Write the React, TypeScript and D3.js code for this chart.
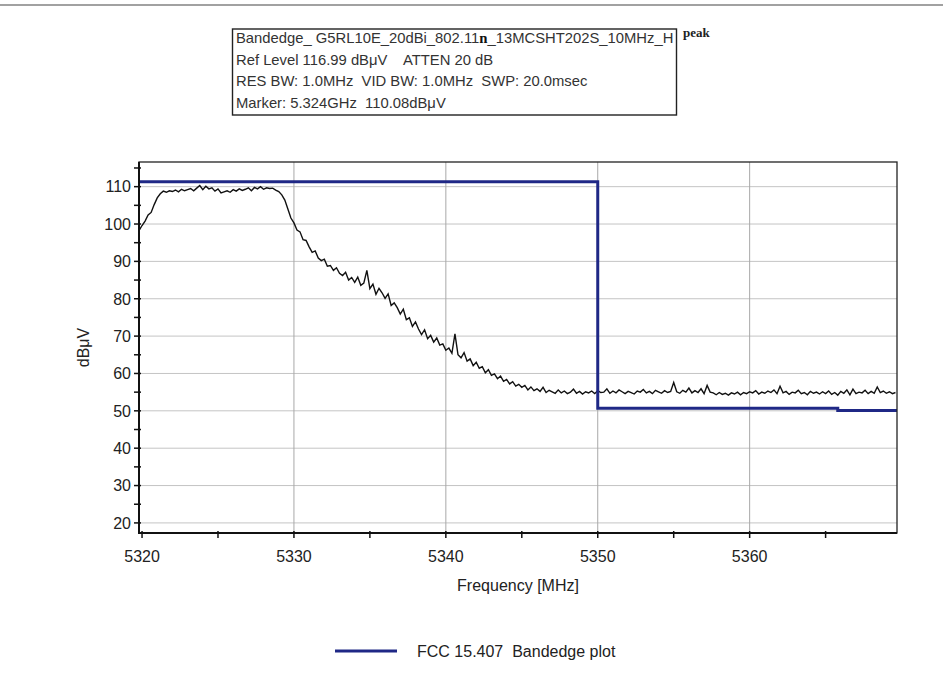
import React from 'react';
import * as d3 from 'd3';

// ---------- data ----------
const freqStart = 5319.8; // MHz, first sweep point
const freqStep = 0.2; // MHz between sweep points

const traceA = [98.2, 99.6, 100.8, 102.4, 103.1, 105.2, 107.0, 108.1, 108.8, 108.5, 108.9, 108.7, 109.1, 108.6, 109.3, 108.9, 109.2, 109.5, 108.9, 109.6, 110.3, 109.2, 110.1, 109.4, 109.7];
const traceB = [108.8, 109.4, 108.3, 108.6, 108.9, 108.5, 109.2, 108.8, 109.4, 109.0, 109.3, 109.7, 108.9, 109.8, 109.4, 110.0, 109.3, 109.7, 109.5, 109.6, 109.1, 108.7, 107.8, 106.4, 104.0];
const traceC = [101.6, 100.3, 98.4, 97.9, 95.8, 95.6, 93.9, 92.4, 92.8, 90.9, 90.2, 90.6, 88.7, 88.9, 87.6, 88.3, 86.8, 86.2, 87.1, 85.0, 85.7, 84.4, 85.8, 83.6, 84.2];
const traceD = [87.6, 82.7, 83.9, 81.2, 82.8, 81.6, 80.1, 81.3, 78.2, 78.9, 77.6, 75.9, 77.2, 74.4, 74.9, 72.6, 73.8, 71.9, 70.4, 71.7, 69.3, 70.2, 68.4, 69.5, 67.6];
const traceE = [67.9, 66.2, 66.8, 65.4, 70.6, 65.0, 64.2, 65.6, 63.3, 63.9, 62.1, 63.0, 61.4, 61.8, 60.2, 61.0, 59.5, 59.9, 58.6, 59.3, 57.9, 58.4, 57.2, 57.8, 56.6];
const traceF = [57.1, 56.3, 56.8, 55.6, 56.4, 55.4, 55.9, 55.2, 56.3, 54.9, 55.5, 55.1, 54.7, 55.6, 54.8, 55.3, 54.6, 55.0, 55.8, 54.7, 55.2, 54.5, 55.1, 54.8, 55.3];
const traceG = [54.6, 55.4, 54.9, 55.0, 55.9, 54.7, 55.3, 54.8, 55.6, 55.1, 54.6, 55.2, 54.9, 54.5, 55.3, 55.0, 55.7, 54.8, 55.2, 54.6, 55.5, 55.1, 54.7, 55.4, 54.9];
const traceH = [55.2, 57.6, 55.1, 54.7, 55.5, 55.0, 56.1, 54.8, 55.4, 54.9, 55.9, 54.6, 56.8, 55.0, 54.8, 54.3, 54.9, 54.4, 54.7, 54.2, 54.8, 54.5, 55.0, 54.3, 54.9];
const traceI = [54.6, 55.1, 54.8, 55.4, 54.5, 55.0, 54.7, 55.3, 54.9, 55.6, 54.6, 56.6, 54.8, 55.2, 54.4, 55.0, 54.8, 55.5, 54.6, 54.9, 54.3, 55.2, 54.7, 55.0, 54.5];
const traceJ = [55.1, 54.6, 55.3, 54.4, 54.9, 54.2, 55.2, 54.7, 55.6, 54.3, 55.8, 54.6, 55.0, 54.8, 55.5, 54.6, 55.2, 54.7, 56.4, 54.9, 55.3, 54.7, 55.1, 54.6, 54.9];
const traceLevels = [...traceA, ...traceB, ...traceC, ...traceD, ...traceE, ...traceF, ...traceG, ...traceH, ...traceI, ...traceJ];

const limitFreqs = [5319.8, 5350, 5365.8, 5369.7];
const limitLevels = [111.3, 50.7, 50.1, 50.1];

const xDomain = [5319.8, 5369.7];
const yDomain = [17.3, 116.6];
const xTicks = [5320, 5330, 5340, 5350, 5360];
const xMinorTicks = [5325, 5335, 5345, 5355, 5365];
const xGrid = [5330, 5340, 5350, 5360];
const yTicks = [20, 30, 40, 50, 60, 70, 80, 90, 100, 110];
const yMinorTicks = [25, 35, 45, 55, 65, 75, 85, 95, 105, 115];

const headerLine1a = 'Bandedge_ G5RL10E_20dBi_802.11';
const headerLine1b = 'n';
const headerLine1c = '_13MCSHT202S_10MHz_H';
const headerLines = [
  'Ref Level 116.99 dB\u03bcV    ATTEN 20 dB',
  'RES BW: 1.0MHz  VID BW: 1.0MHz  SWP: 20.0msec',
  'Marker: 5.324GHz  110.08dB\u03bcV',
];
const peakLabel = 'peak';
const xAxisTitle = 'Frequency [MHz]';
const yAxisTitle = 'dB\u03bcV';
const legendLabel = 'FCC 15.407  Bandedge plot';

// ---------- layout ----------
const W = 945;
const H = 674;
const plot = { left: 139, right: 897, top: 162, bottom: 533 };
const limitColor = '#1f2886';
const gridColor = '#c4c4c4';
const font = '"Liberation Sans", Arial, sans-serif';

export default function App() {
  const x = d3.scaleLinear().domain(xDomain).range([plot.left, plot.right]);
  const y = d3.scaleLinear().domain(yDomain).range([plot.bottom, plot.top]);

  const tracePts: [number, number][] = traceLevels.map((v, i) => [freqStart + i * freqStep, v]);
  const traceLine = d3
    .line<[number, number]>()
    .x((d) => x(d[0]))
    .y((d) => y(d[1]));

  const limitPts: [number, number][] = limitFreqs.map((f, i) => [f, limitLevels[i]]);
  const limitLine = d3
    .line<[number, number]>()
    .x((d) => x(d[0]))
    .y((d) => y(d[1]))
    .curve(d3.curveStepAfter);

  return (
    <svg
      width={W}
      height={H}
      style={{ position: 'absolute', left: 0, top: 0, background: '#fff' }}
      fontFamily={font}
    >
      <rect x={0} y={0} width={W} height={H} fill="#fff" />
      <line x1={0} x2={943} y1={5} y2={5} stroke="#444" strokeWidth={1.2} />

      {/* header box */}
      <rect x={232.5} y={29} width={444} height={86} fill="#fff" stroke="#222" strokeWidth={1.4} />
      <text x={236} y={42.5} fontSize={14.8} fill="#333">
        {headerLine1a}
        <tspan fontFamily='"Liberation Serif", "Times New Roman", serif' fontWeight="bold" fill="#111">
          {headerLine1b}
        </tspan>
        {headerLine1c}
      </text>
      {headerLines.map((t, i) => (
        <text key={t} x={236} y={64.5 + i * 21.8} fontSize={14.8} fill="#333" style={{ whiteSpace: 'pre' }}>
          {t}
        </text>
      ))}
      <text
        x={683}
        y={37}
        fontSize={13}
        fontWeight="bold"
        fontFamily='"Liberation Serif", "Times New Roman", serif'
        fill="#222"
      >
        {peakLabel}
      </text>

      <defs>
        <clipPath id="plotClip">
          <rect x={plot.left} y={plot.top} width={plot.right - plot.left} height={plot.bottom - plot.top} />
        </clipPath>
      </defs>

      {/* grid */}
      {yTicks.map((t) => (
        <line key={'gy' + t} x1={plot.left} x2={plot.right} y1={y(t)} y2={y(t)} stroke={gridColor} strokeWidth={1} />
      ))}
      {xGrid.map((t) => (
        <line key={'gx' + t} x1={x(t)} x2={x(t)} y1={plot.top} y2={plot.bottom} stroke="#a8a8a8" strokeWidth={1} />
      ))}

      {/* series */}
      <g clipPath="url(#plotClip)">
        <path d={traceLine(tracePts) || ''} fill="none" stroke="#111" strokeWidth={1.4} strokeLinejoin="miter" />
        <path d={limitLine(limitPts) || ''} fill="none" stroke={limitColor} strokeWidth={3} />
      </g>

      {/* frame */}
      <rect
        x={plot.left}
        y={plot.top}
        width={plot.right - plot.left}
        height={plot.bottom - plot.top}
        fill="none"
        stroke="#222"
        strokeWidth={1.3}
      />
      <line x1={plot.left} x2={plot.left} y1={plot.top} y2={plot.bottom + 1} stroke="#111" strokeWidth={2} />
      <line x1={plot.left} x2={plot.right} y1={plot.bottom} y2={plot.bottom} stroke="#111" strokeWidth={2} />

      {/* y ticks */}
      {[...yTicks, ...yMinorTicks].map((t) => (
        <line key={'ty' + t} x1={plot.left - 5} x2={plot.left + 2} y1={y(t)} y2={y(t)} stroke="#111" strokeWidth={1.5} />
      ))}
      {yTicks.map((t) => (
        <text key={'ly' + t} x={131} y={y(t)} dy="0.36em" fontSize={16} textAnchor="end" fill="#222">
          {t}
        </text>
      ))}

      {/* x ticks */}
      {[...xTicks, ...xMinorTicks].map((t) => (
        <line key={'tx' + t} x1={x(t)} x2={x(t)} y1={plot.bottom - 2} y2={plot.bottom + 5} stroke="#111" strokeWidth={1.5} />
      ))}
      {xTicks.map((t) => (
        <text key={'lx' + t} x={x(t)} y={562} fontSize={16} textAnchor="middle" fill="#222">
          {t}
        </text>
      ))}

      {/* axis titles */}
      <text x={(plot.left + plot.right) / 2} y={591} fontSize={16} textAnchor="middle" fill="#222">
        {xAxisTitle}
      </text>
      <text
        transform={`translate(89, ${(plot.top + plot.bottom) / 2}) rotate(-90)`}
        fontSize={16}
        textAnchor="middle"
        fill="#222"
      >
        {yAxisTitle}
      </text>

      {/* legend */}
      <line x1={335} x2={397} y1={651} y2={651} stroke={limitColor} strokeWidth={3} />
      <text x={417} y={657} fontSize={16} fill="#222" style={{ whiteSpace: 'pre' }}>
        {legendLabel}
      </text>
    </svg>
  );
}
